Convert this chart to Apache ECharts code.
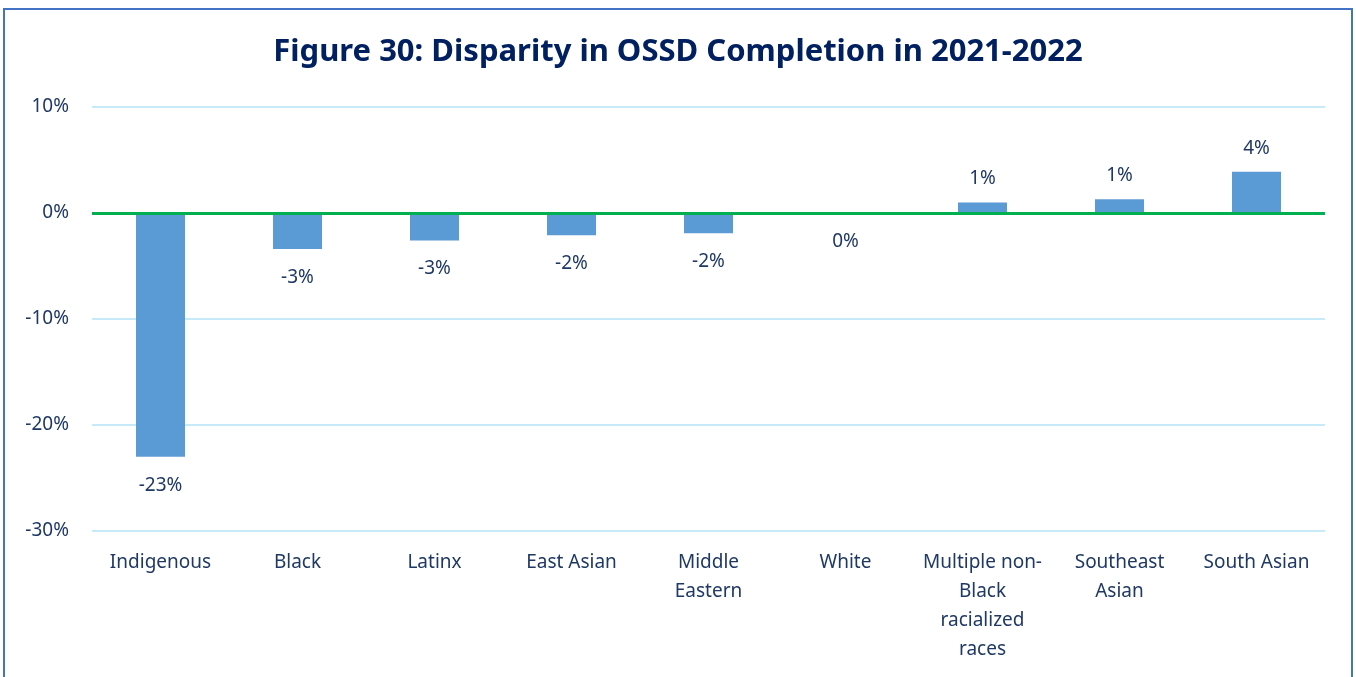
<!DOCTYPE html>
<html>
<head>
<meta charset="utf-8">
<title>Figure 30</title>
<script src="https://cdn.jsdelivr.net/npm/echarts@6/dist/echarts.min.js"></script>
<style>
    html, body { margin: 0; padding: 0; background: #fff; }
    #main { width: 1356px; height: 677px; }
</style>
</head>
<body>
<div id="main"></div>
<script>
// categories and values (percent)
var groups = ['Indigenous', 'Black', 'Latinx', 'East Asian', 'Middle Eastern', 'White',
    'Multiple non-Black racialized races', 'Southeast Asian', 'South Asian'];
// wrapped the way the original axis shows them
var groupLabels = ['Indigenous', 'Black', 'Latinx', 'East Asian', 'Middle\nEastern', 'White',
    'Multiple non-\nBlack\nracialized\nraces', 'Southeast\nAsian', 'South Asian'];
var disparity = [-23.0, -3.4, -2.6, -2.1, -1.9, 0, 1.0, 1.3, 3.9];
var yTicks = [-30, -20, -10, 0, 10];

var navy = '#1F3864';
var font = 'Noto Sans';

var myChart = echarts.init(document.getElementById('main'));

// negatives (and the zero) get their label under the bar
var barData = disparity.map(function (v) {
    return {
        value: v,
        label: v <= 0 ? { position: 'bottom', distance: 19 } : { position: 'top', distance: 14 }
    };
});

var option = {
    backgroundColor: '#fff',
    animation: false,
    title: {
        text: 'Figure 30: Disparity in OSSD Completion in 2021-2022',
        left: 'center',
        top: 32,
        textStyle: {
            fontFamily: font,
            fontSize: 31,
            fontWeight: 'bold',
            color: '#002060'
        }
    },
    graphic: [{
        type: 'rect',
        shape: { x: 4, y: 9, width: 1348, height: 700 },
        style: { fill: 'none', stroke: '#4472C4', lineWidth: 2 },
        silent: true
    }],
    grid: {
        left: 92,
        right: 31,
        top: 107,
        bottom: 146
    },
    xAxis: {
        type: 'category',
        data: groups,
        axisLine: { show: false },
        axisTick: { show: false },
        axisLabel: {
            margin: 17,
            interval: 0,
            fontFamily: font,
            fontSize: 19,
            lineHeight: 29,
            color: navy,
            formatter: function (val, idx) {
                return groupLabels[idx];
            }
        }
    },
    yAxis: {
        type: 'value',
        min: yTicks[0],
        max: yTicks[yTicks.length - 1],
        interval: 10,
        axisLine: { show: false },
        axisTick: { show: false },
        axisLabel: {
            margin: 23,
            fontFamily: font,
            fontSize: 19,
            color: navy,
            formatter: '{value}%'
        },
        splitLine: {
            lineStyle: { color: '#C6EAF8', width: 2 }
        }
    },
    series: [{
        type: 'bar',
        data: barData,
        barWidth: 49,
        itemStyle: { color: '#5B9BD5' },
        label: {
            show: true,
            fontFamily: font,
            fontSize: 19,
            color: navy,
            formatter: function (p) {
                var r = Math.round(p.value);
                if (r === 0) r = 0;
                return r + '%';
            }
        },
        markLine: {
            silent: true,
            symbol: ['none', 'none'],
            label: { show: false },
            lineStyle: { color: '#00B050', width: 3, type: 'solid' },
            data: [{ yAxis: 0 }]
        }
    }]
};

myChart.setOption(option);
</script>
</body>
</html>
